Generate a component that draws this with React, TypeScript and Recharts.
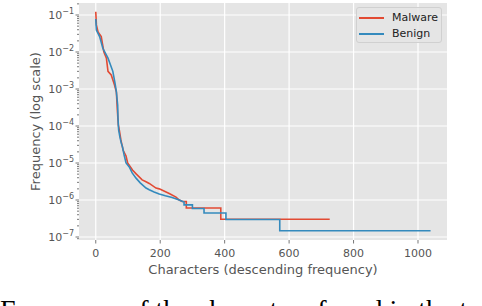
import React from 'react';
import { LineChart, Line, XAxis, YAxis, CartesianGrid, Legend, Label } from 'recharts';

// character rank (descending frequency) -> relative frequency
const malwareRank = [0, 2, 7, 17, 25, 33, 38, 48, 58, 64, 67, 70, 73, 78, 85, 94, 99, 114, 126, 144, 156, 166, 187, 197, 228, 249, 259, 268, 281, 281, 388, 388, 726];
const malwareFreq = [0.123, 0.054, 0.035, 0.026, 0.0102, 0.0068, 0.003, 0.0024, 0.0013, 0.00083, 2.7e-4, 1.07e-4, 7.8e-5, 4.2e-5, 2.2e-5, 1.55e-5, 1e-5, 6.5e-6, 5e-6, 3.5e-6, 3.1e-6, 2.8e-6, 2.1e-6, 2e-6, 1.5e-6, 1.2e-6, 1e-6, 9.1e-7, 9.1e-7, 6.06e-7, 6.06e-7, 3.03e-7, 3.03e-7];

const benignRank = [0, 2, 12, 22, 38, 53, 60, 64, 68, 69, 71, 75, 79, 83, 88, 94, 104, 113, 125, 138, 156, 166, 181, 197, 216, 237, 259, 274, 274, 300, 300, 336, 336, 404, 404, 571, 571, 1039];
const benignFreq = [0.078, 0.039, 0.026, 0.0126, 0.0068, 0.003, 0.0014, 0.00083, 3.7e-4, 1.66e-4, 7.8e-5, 5e-5, 3.5e-5, 2.7e-5, 1.65e-5, 1e-5, 7.8e-6, 5.4e-6, 3.9e-6, 2.9e-6, 2.1e-6, 1.9e-6, 1.65e-6, 1.45e-6, 1.3e-6, 1.17e-6, 1e-6, 8.87e-7, 7.4e-7, 7.4e-7, 5.9e-7, 5.9e-7, 4.44e-7, 4.44e-7, 2.96e-7, 2.96e-7, 1.48e-7, 1.48e-7];

const xTicks = [0, 200, 400, 600, 800, 1000];
const yMajor = [1e-7, 1e-6, 1e-5, 1e-4, 1e-3, 1e-2, 1e-1];
const yExp = ['−7', '−6', '−5', '−4', '−3', '−2', '−1'];
const yDomain = [8.3e-8, 0.211];

const malware = malwareRank.map((x, i) => ({ x, y: malwareFreq[i] }));
const benign = benignRank.map((x, i) => ({ x, y: benignFreq[i] }));

const yMinor: number[] = [];
for (let e = -8; e <= -1; e++) {
  for (let k = 2; k <= 9; k++) {
    const v = Number((k * Math.pow(10, e)).toPrecision(3));
    if (v >= yDomain[0] && v <= yDomain[1]) yMinor.push(v);
  }
}
const yTicks = [...yMajor, ...yMinor].sort((a, b) => a - b);

const FONT = '"DejaVu Sans", sans-serif';
const GREY = '#555555';

function YTick(props: any) {
  const { x, y, payload } = props;
  const i = yMajor.findIndex((m) => Math.abs(Math.log10(m) - Math.log10(payload.value)) < 1e-6);
  if (i < 0) {
    return <line x1={x - 2} x2={x} y1={y} y2={y} stroke={GREY} strokeWidth={0.8} />;
  }
  return (
    <g>
      <line x1={x - 3.5} x2={x} y1={y} y2={y} stroke={GREY} strokeWidth={0.8} />
      <text x={x - 5} y={y + 4.3} textAnchor="end" fill={GREY} fontSize={11} fontFamily={FONT}>
        10<tspan dy={-5.3} fontSize={8}>{yExp[i]}</tspan>
      </text>
    </g>
  );
}

function LegendBox() {
  const rows = [
    { name: 'Malware', color: '#E24A33' },
    { name: 'Benign', color: '#348ABD' },
  ];
  return (
    <div
      style={{
        width: 86,
        height: 36,
        boxSizing: 'border-box',
        border: '1px solid #d0d0d0',
        borderRadius: 3,
        background: 'rgba(229,229,229,0.8)',
        position: 'relative',
        fontFamily: FONT,
        fontSize: 11,
        color: '#222',
      }}
    >
      {rows.map((r, i) => (
        <div key={r.name} style={{ position: 'absolute', left: 2, top: 3 + i * 16, height: 13, display: 'flex', alignItems: 'center' }}>
          <div style={{ width: 25, height: 2, background: r.color }} />
          <span style={{ marginLeft: 8, lineHeight: '13px' }}>{r.name}</span>
        </div>
      ))}
    </div>
  );
}

export default function App() {
  return (
    <div style={{ position: 'absolute', left: 0, top: 0, width: 482, height: 306, overflow: 'hidden', background: '#fff' }}>
      <LineChart width={482} height={306} margin={{ top: 3, right: 35, bottom: 26, left: 0 }}>
        <CartesianGrid
          stroke="#ffffff"
          strokeWidth={1.2}
          fill="#E5E5E5"
          fillOpacity={1}
          horizontalValues={yMajor}
          verticalValues={xTicks}
        />
        <XAxis
          type="number"
          dataKey="x"
          domain={[-52, 1090]}
          allowDataOverflow
          ticks={xTicks}
          axisLine={false}
          tickSize={3.5}
          tickMargin={6}
          tickLine={{ stroke: GREY, strokeWidth: 0.8 }}
          tick={{ fill: GREY, fontSize: 11, fontFamily: FONT }}
          height={40}
          label={
            <Label
              content={(p: any) => {
                const vb = p.viewBox;
                return (
                  <text x={vb.x + vb.width / 2} y={vb.y + 33.5} textAnchor="middle" fill={GREY} fontSize={13} fontFamily={FONT}>
                    Characters (descending frequency)
                  </text>
                );
              }}
            />
          }
        />
        <YAxis
          type="number"
          scale="log"
          domain={yDomain}
          allowDataOverflow
          ticks={yTicks}
          interval={0}
          axisLine={false}
          tickLine={false}
          tickSize={0}
          tickMargin={0}
          tick={<YTick />}
          width={79}
          label={
            <Label
              content={(p: any) => {
                const vb = p.viewBox;
                const cx = vb.x + 35.5;
                const cy = vb.y + vb.height / 2;
                return (
                  <text x={cx} y={cy} transform={`rotate(-90 ${cx} ${cy})`} textAnchor="middle" dominantBaseline="central" fill={GREY} fontSize={13} fontFamily={FONT}>
                    Frequency (log scale)
                  </text>
                );
              }}
            />
          }
        />
        <Legend
          layout="horizontal"
          verticalAlign="middle"
          align="center"
          content={() => <LegendBox />}
          wrapperStyle={{ left: 356, top: 7, width: 86, height: 36 }}
        />
        <Line data={malware} dataKey="y" name="Malware" type="linear" stroke="#E24A33" strokeWidth={1.6} dot={false} isAnimationActive={false} />
        <Line data={benign} dataKey="y" name="Benign" type="linear" stroke="#348ABD" strokeWidth={1.6} dot={false} isAnimationActive={false} />
      </LineChart>
      <div
        style={{
          position: 'absolute',
          left: 0,
          top: 296,
          fontFamily: '"Liberation Serif", "Times New Roman", serif',
          fontSize: 28,
          lineHeight: 1,
          whiteSpace: 'nowrap',
          color: '#000',
        }}
      >
        Frequency of the characters found in the t
      </div>
    </div>
  );
}
